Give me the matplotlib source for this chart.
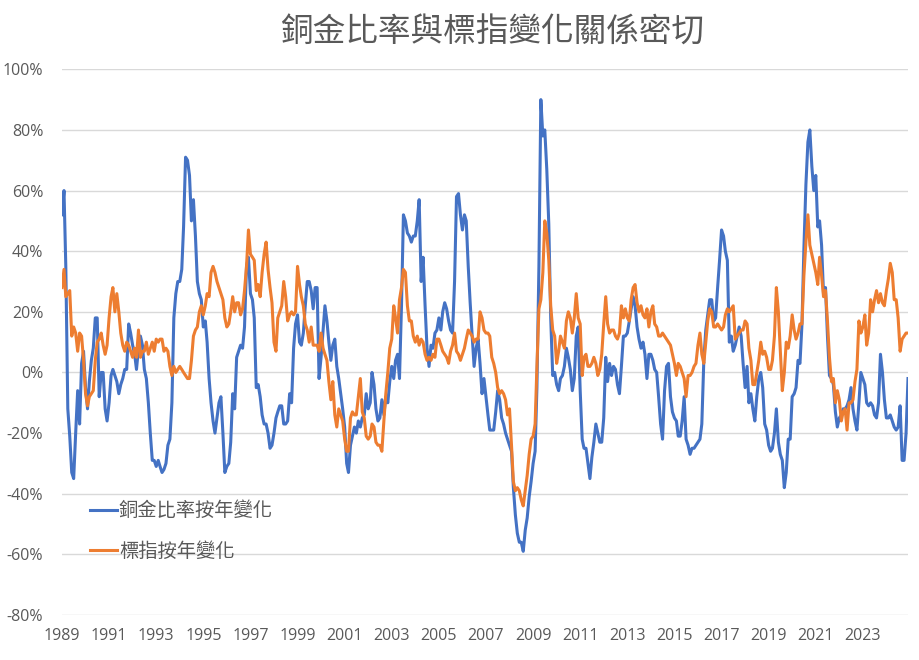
import matplotlib
matplotlib.use("Agg")
import matplotlib.pyplot as plt
import pandas as pd
import numpy as np

# ---- data (monthly, Jan 1989 .. Dec 2024), % year-on-year ----
copper_gold_yoy = [
    52, 60, 35, -12, -21, -33, -35, -20, -6, -17, 3, 7,          # 1989
    -5, -12, -3, 4, 8, 18, 18, -8, 0, 0, -12, -16,               # 1990
    -10, -1, 1, -1, -3, -7, -4, -2, 1, 1, 16, 13,                # 1991
    9, 6, 1, 8, 12, 9, 1, -2, -10, -20, -29, -29,                # 1992
    -31, -29, -31, -33, -32, -30, -24, -22, -10, 18, 26, 30,     # 1993
    30, 34, 48, 71, 70, 65, 50, 57, 45, 30, 26, 24,              # 1994
    15, 17, 10, -2, -10, -16, -20, -15, -10, -8, -20, -33,       # 1995
    -31, -30, -23, -7, -12, 5, 7, 9, 8, 15, 35, 38,              # 1996
    26, 24, 18, -5, -4, -8, -14, -17, -17, -20, -25, -24,        # 1997
    -20, -15, -13, -11, -11, -17, -17, -16, -7, -10, 8, 16,      # 1998
    19, 10, 9, 13, 22, 30, 30, 27, 21, 28, 28, -2,               # 1999
    5, 14, 22, 17, 10, 4, 9, 11, 2, -2, -7, -12,                 # 2000
    -18, -30, -33, -24, -21, -18, -20, -16, -18, -15, -14, -7,   # 2001
    -12, -10, 0, -4, -12, -16, -15, -9, -14, -8, -10, -3,        # 2002
    2, -2, 4, 6, -2, 22, 52, 50, 46, 45, 43, 45,                 # 2003
    45, 50, 57, 30, 38, 22, 8, 2, 9, 8, 13, 14,                  # 2004
    18, 14, 20, 23, 21, 17, 14, 13, 30, 58, 59, 52,              # 2005
    47, 52, 50, 35, 23, 12, 2, 8, 11, 3, -7, -2,                 # 2006
    -8, -14, -19, -19, -19, -13, -6, -9, -15, -17, -20, -22,     # 2007
    -24, -26, -38, -47, -53, -56, -56, -59, -52, -48, -41, -36,  # 2008
    -30, -26, -5, 35, 90, 78, 80, 67, 49, 18, -1, 0,             # 2009
    -4, -6, -2, -1, 2, 8, 5, 1, -6, -2, 12, 15,                  # 2010
    -6, -22, -25, -25, -30, -35, -28, -23, -17, -20, -23, -23,   # 2011
    -15, 5, -3, 3, -1, 2, 1, -4, -7, 2, 12, 12,                  # 2012
    13, 17, 21, 25, 22, 15, 11, 8, 10, 6, -2, 6,                 # 2013
    6, 4, 1, 0, -8, -17, -22, -6, 2, 3, -8, -13,                 # 2014
    -15, -16, -21, -21, -16, -8, -22, -24, -27, -25, -25, -24,   # 2015
    -23, -22, -17, 4, 14, 19, 24, 24, 17, 18, 28, 37,            # 2016
    47, 45, 40, 37, 10, 12, 7, 9, 12, 15, 12, 3,                 # 2017
    -5, 2, -10, -7, -12, -16, -8, -2, 0, -5, -17, -19,           # 2018
    -24, -26, -25, -20, -12, -23, -27, -29, -38, -33, -22, -22,  # 2019
    -8, -7, -5, 4, 3, 16, 41, 62, 76, 80, 68, 60,                # 2020
    65, 48, 50, 42, 26, 28, 12, -1, -2, -4, -13, -18,            # 2021
    -15, -14, -12, -12, -11, -9, -5, -12, -16, -19, -10, 0,      # 2022
    -2, -4, -10, -11, -10, -11, -14, -15, -10, 6, 0, -9,         # 2023
    -15, -15, -14, -16, -18, -19, -18, -11, -29, -29, -20, -2,   # 2024
]

hsi_yoy = [
    28, 34, 25, 26, 27, 12, 15, 13, 7, 13, 12, 4,                # 1989
    -7, -11, -8, -7, -6, 4, 10, 11, 13, 9, 6, 9,                 # 1990
    18, 25, 28, 20, 26, 20, 13, 9, 7, 10, 9, 7,                  # 1991
    5, 8, 5, 14, 5, 7, 7, 10, 6, 8, 10, 7,                       # 1992
    11, 10, 11, 11, 7, 8, 7, 2, -1, 2, 0, 1,                     # 1993
    2, 1, 0, -1, -2, -2, 4, 12, 14, 15, 20, 22,                  # 1994
    19, 22, 26, 25, 33, 35, 33, 30, 28, 26, 24, 18,              # 1995
    15, 16, 20, 25, 20, 23, 23, 19, 21, 27, 35, 47,              # 1996
    39, 38, 37, 27, 29, 25, 33, 39, 43, 34, 28, 23,              # 1997
    10, 7, 18, 20, 22, 30, 25, 17, 19, 20, 19, 20,               # 1998
    35, 29, 25, 22, 16, 14, 10, 15, 9, 9, 9, 7,                  # 1999
    13, 8, 6, 4, -3, -9, -3, -14, -18, -12, -14, -16,            # 2000
    -22, -26, -26, -15, -13, -14, -14, -8, -2, -13, -15, -21,    # 2001
    -22, -21, -17, -18, -23, -24, -24, -26, -16, -7, 0, 8,       # 2002
    11, 22, 18, 13, 24, 28, 34, 33, 22, 17, 17, 12,              # 2003
    10, 12, 9, 11, 10, 6, 4, 5, 4, 6, 5, 11,                     # 2004
    11, 9, 7, 6, 5, 3, 7, 9, 13, 7, 6, 4,                        # 2005
    6, 8, 11, 14, 13, 12, 10, 11, 11, 20, 18, 14,                # 2006
    13, 13, 12, 5, 3, 0, -5, -7, -6, -7, -9, -14,                # 2007
    -12, -24, -36, -39, -38, -39, -42, -44, -39, -34, -27, -22,  # 2008
    -21, -17, 2, 21, 24, 33, 50, 46, 37, 22, 14, 12,             # 2009
    3, 7, 12, 10, 8, 17, 20, 18, 13, 18, 26, 18,                 # 2010
    16, -1, 5, 6, 2, 2, 3, 5, 3, -1, 1, 6,                       # 2011
    16, 25, 16, 13, 14, 14, 12, 11, 13, 22, 18, 21,              # 2012
    18, 17, 24, 28, 29, 23, 20, 22, 19, 18, 21, 15,              # 2013
    20, 22, 16, 15, 12, 12, 13, 12, 11, 10, 9, 6,                # 2014
    3, -1, 3, 2, 0, -2, -8, -1, -1, 0, 2, 3,                     # 2015
    9, 13, 6, 3, 10, 17, 21, 20, 15, 15, 16, 15,                 # 2016
    14, 15, 19, 21, 20, 21, 22, 11, 12, 13, 14, 14,              # 2017
    17, 16, 8, 4, -4, -4, 0, 4, 10, 6, 7, 5,                     # 2018
    1, 1, 4, 12, 28, 20, 7, -6, 0, 10, 8, 12,                    # 2019
    19, 14, 11, 13, 16, 16, 32, 43, 52, 42, 39, 36,              # 2020
    33, 29, 38, 32, 25, 27, 17, 5, -3, -2, -10, -6,              # 2021
    -9, -16, -13, -12, -19, -10, -10, -9, -3, 1, 17, 13,         # 2022
    15, 19, 9, 13, 24, 20, 24, 27, 23, 26, 23, 22,               # 2023
    27, 31, 36, 33, 24, 24, 18, 7, 11, 12, 13, 13,               # 2024
]

start_month = "1989-01-01"
tick_years = list(range(1989, 2024, 2))
tick_labels = [str(y) for y in tick_years]
y_ticks = list(range(-80, 101, 20))

series_names = ["銅金比率按年變化", "標指按年變化"]
title_text = "銅金比率與標指變化關係密切"

# ---- figure ----
dates = pd.date_range(start_month, periods=len(copper_gold_yoy), freq="MS")

plt.rcParams["font.family"] = ["Open Sans", "Noto Sans CJK TC", "DejaVu Sans"]
grey = "#595959"

fig = plt.figure(figsize=(9.19, 6.60), dpi=100)
ax = fig.add_axes([62 / 919, 1 - 615 / 660, (908 - 62) / 919, (615 - 69.3) / 660])

ax.plot(dates, copper_gold_yoy, color="#4472C4", lw=2.2, label=series_names[0],
        solid_joinstyle="round", zorder=3)
ax.plot(dates, hsi_yoy, color="#ED7D31", lw=2.2, label=series_names[1],
        solid_joinstyle="round", zorder=4)

ax.set_xlim(dates[0], dates[-1])
ax.set_ylim(-80, 100)
ax.set_yticks(y_ticks)
ax.set_yticklabels([f"{v}%" for v in y_ticks])
ax.set_xticks(pd.to_datetime([f"{y}-01-01" for y in tick_years]))
ax.set_xticklabels(tick_labels)

ax.grid(axis="y", color="#D9D9D9", lw=1.0, zorder=0)
ax.grid(axis="x", visible=False)
for s in ax.spines.values():
    s.set_visible(False)
ax.tick_params(axis="both", length=0, labelcolor=grey, labelsize=11.5)
ax.tick_params(axis="y", pad=13.5)
ax.tick_params(axis="x", pad=9.5)

leg = ax.legend(loc="center left", bbox_to_anchor=(0.033, 0.154), frameon=False,
                borderaxespad=0, borderpad=0, handlelength=1.4, handletextpad=0.1,
                labelspacing=1.0,
                prop={"family": ["Noto Sans CJK TC", "DejaVu Sans"], "size": 13.9})
for t in leg.get_texts():
    t.set_color(grey)

fig.text(492 / 919, 1 - 33 / 660, title_text, ha="center", va="center",
         fontsize=23.5, color=grey, family=["Noto Sans CJK TC", "DejaVu Sans"])

fig.savefig("out.png", dpi=100)
